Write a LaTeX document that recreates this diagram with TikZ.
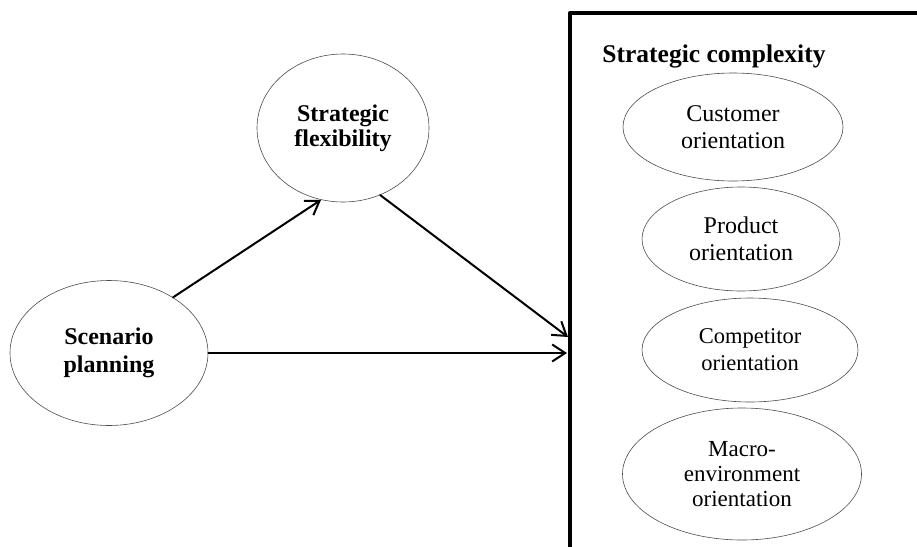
\documentclass[tikz,border=0pt]{standalone}
\usepackage{fontspec}
\setmainfont{Liberation Serif}
\usetikzlibrary{shapes.geometric,arrows.meta}

\begin{document}
\begin{tikzpicture}[
  x=1pt, y=-1pt,
  line cap=round, line join=round,
  oval/.style={ellipse, draw=black!70, line width=0.6pt, inner sep=0pt, align=center,
    font=\fontsize{24}{27}\selectfont},
  keyoval/.style={oval, font=\bfseries\fontsize{24}{28}\selectfont},
  arr/.style={line width=2pt, -{Straight Barb[length=13pt,width=17pt]}},
  frame/.style={line width=4.5pt, line cap=butt},
]
\useasboundingbox (0,0) rectangle (917,546);
% left side
\node[keyoval, minimum width=198pt, minimum height=145pt] (scen) at (109,353) {Scenario\\planning};
\node[keyoval, minimum width=172pt, minimum height=148pt, font=\bfseries\fontsize{24}{25}\selectfont] (flex) at (343,128) {Strategic\\flexibility};
% strategic complexity box
\draw[frame] (570,560) -- (570,13) -- (930,13);
\node[anchor=base, font=\bfseries\fontsize{25.5}{28}\selectfont] (title) at (714,62) {Strategic complexity};
\node[oval, minimum width=220pt, minimum height=108pt] (cust) at (733,127) {Customer\\orientation};
\node[oval, minimum width=198pt, minimum height=104pt] (prod) at (741,239) {Product\\orientation};
\node[oval, minimum width=216pt, minimum height=104pt, font=\fontsize{22.5}{27}\selectfont] (comp) at (750,350) {Competitor\\orientation};
\node[oval, minimum width=239pt, minimum height=132pt, font=\fontsize{23}{25}\selectfont] (macro) at (742,474) {Macro-\\environment\\orientation};
\coordinate (in1) at (568,337);
\coordinate (in2) at (567,353);
% arrows
\draw[arr] (scen.41) -- (flex.253);
\draw[arr] (flex.299) -- (in1);
\draw[arr] (scen.east) -- (in2);
\end{tikzpicture}
\end{document}
